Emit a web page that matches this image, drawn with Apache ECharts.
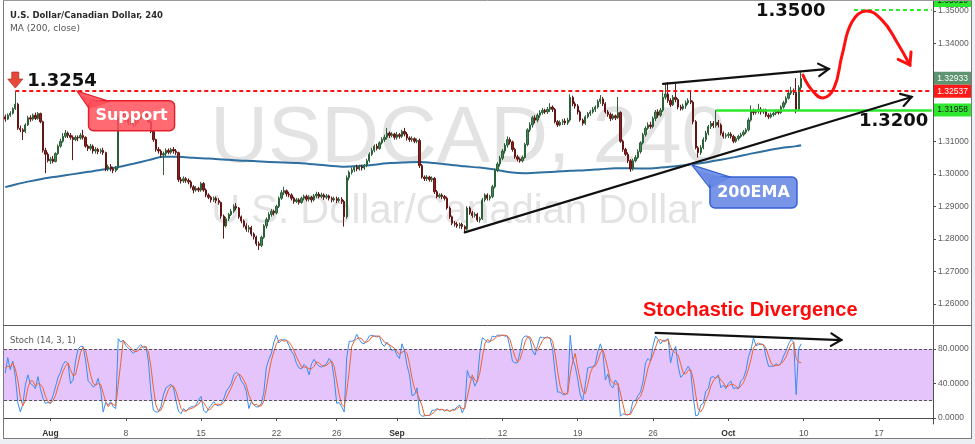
<!DOCTYPE html>
<html><head><meta charset="utf-8">
<script src="https://cdn.jsdelivr.net/npm/echarts@6.0.0/dist/echarts.min.js"></script>
<style>html,body{margin:0;padding:0;background:#fff}#c{width:975px;height:444px}</style>
</head><body><div id="c"></div>
<script>
// ---------- categories (4h bars, 6 per trading day) ----------
const tradingDays = [
'07-27','07-28','07-29',
'08-01','08-02','08-03','08-04','08-05',
'08-08','08-09','08-10','08-11','08-12',
'08-15','08-16','08-17','08-18','08-19',
'08-22','08-23','08-24','08-25','08-26',
'08-29','08-30','08-31','09-01','09-02',
'09-05','09-06','09-07','09-08','09-09',
'09-12','09-13','09-14','09-15','09-16',
'09-19','09-20','09-21','09-22','09-23',
'09-26','09-27','09-28','09-29','09-30',
'10-03','10-04','10-05','10-06','10-07',
'10-10','10-11','10-12','10-13','10-14',
'10-17','10-18','10-19','10-20','10-21'];
const barsPerDay = 6;
const visibleBars = 370;
const tickLabels = {'08-01':'Aug','08-08':'8','08-15':'15','08-22':'22','08-26':'26','09-01':'Sep',
  '09-12':'12','09-19':'19','09-26':'26','10-03':'Oct','10-10':'10','10-17':'17'};
const monthTicks = ['08-01','09-01','10-03'];

// ---------- candles [open, close, low, high] in pips above 1.0000 ----------
const c_Jul27 = [
[3175,3168,3160,3182],[3168,3180,3165,3185],[3180,3186,3175,3192],[3186,3200,3182,3204],[3200,3214,3196,3254],[3214,3140,3135,3218],
[3140,3135,3128,3148],[3135,3130,3104,3140],[3130,3150,3125,3155],[3150,3172,3147,3178],[3172,3168,3160,3180],[3168,3180,3163,3185],
[3180,3170,3165,3188],[3170,3185,3166,3190],[3185,3160,3155,3188],[3160,3072,3065,3163],[3072,3060,3002,3080],[3060,3040,3035,3066]];
const c_Aug01 = [
[3040,3045,3030,3052],[3045,3038,3032,3055],[3038,3062,3035,3066],[3062,3085,3058,3090],[3085,3100,3080,3108],[3100,3115,3095,3125],
[3115,3125,3110,3135],[3125,3118,3110,3130],[3118,3112,3105,3125],[3112,3105,3042,3118],[3105,3112,3100,3118],[3112,3110,3100,3118],
[3110,3118,3105,3125],[3118,3112,3105,3135],[3112,3085,3080,3115],[3085,3078,3070,3090],[3078,3085,3072,3092],[3085,3070,3062,3090],
[3070,3075,3062,3082],[3075,3068,3060,3080],[3068,3072,3062,3078],[3072,3065,3058,3080],[3065,3015,3008,3068],[3015,3022,3008,3028],
[3022,3015,3008,3030],[3015,3010,3002,3022],[3010,3018,3005,3024],[3018,3170,3012,3178],[3170,3182,3165,3190],[3182,3175,3168,3196]];
const c_Aug08 = [
[3175,3168,3160,3185],[3168,3158,3150,3175],[3158,3165,3150,3172],[3165,3152,3145,3170],[3152,3160,3145,3168],[3160,3170,3155,3178],
[3170,3180,3165,3188],[3180,3176,3168,3192],[3176,3186,3170,3190],[3186,3160,3155,3190],[3160,3130,3125,3163],[3130,3105,3098,3135],
[3105,3075,3068,3108],[3075,3070,3062,3082],[3070,3058,3050,3075],[3058,3062,2996,3068],[3062,3072,3055,3078],[3072,3066,3060,3078],
[3066,3075,3060,3080],[3075,3070,3062,3082],[3070,3065,3058,3076],[3065,2982,2975,3068],[2982,2978,2970,2990],[2978,2985,2972,2992],
[2985,2980,2972,2990],[2980,2975,2968,2986],[2975,2960,2955,2980],[2960,2950,2940,2965],[2950,2955,2945,2962],[2955,2950,2944,2960]];
const c_Aug15 = [
[2950,2970,2945,2975],[2970,2950,2945,2975],[2950,2935,2928,2955],[2935,2928,2922,2940],[2928,2920,2912,2932],[2920,2925,2914,2930],
[2925,2918,2910,2930],[2918,2912,2905,2925],[2912,2870,2862,2915],[2870,2840,2801,2875],[2840,2862,2835,2868],[2862,2875,2855,2880],
[2875,2885,2870,2892],[2885,2900,2880,2906],[2900,2895,2888,2910],[2895,2868,2862,2898],[2868,2855,2848,2872],[2855,2840,2835,2860],
[2840,2830,2822,2848],[2830,2835,2820,2842],[2835,2815,2808,2840],[2815,2806,2798,2820],[2806,2785,2778,2810],[2785,2780,2766,2792],
[2780,2805,2775,2810],[2805,2840,2800,2845],[2840,2860,2832,2866],[2860,2875,2852,2882],[2875,2885,2868,2892],[2885,2880,2872,2890]];
const c_Aug22 = [
[2880,2900,2875,2905],[2900,2925,2895,2930],[2925,2942,2920,2950],[2942,2948,2935,2960],[2948,2938,2930,2952],[2938,2935,2928,2945],
[2935,2925,2918,2940],[2925,2915,2908,2930],[2915,2920,2910,2926],[2920,2912,2905,2925],[2912,2925,2908,2930],[2925,2930,2918,2936],
[2930,2922,2915,2936],[2922,2928,2915,2934],[2928,2920,2912,2932],[2920,2932,2915,2938],[2932,2938,2925,2945],[2938,2930,2924,2944],
[2930,2935,2925,2942],[2935,2928,2920,2940],[2928,2932,2922,2938],[2932,2925,2918,2936],[2925,2920,2912,2930],[2920,2924,2914,2930],
[2924,2918,2910,2930],[2918,2922,2912,2928],[2922,2915,2908,2928],[2915,2868,2838,2920],[2868,2988,2862,2995],[2988,3005,2980,3010]];
const c_Aug29 = [
[3005,3012,2998,3020],[3012,3020,3005,3025],[3020,3015,3008,3028],[3015,3022,3010,3028],[3022,3018,3010,3028],[3018,3025,3012,3030],
[3025,3040,3020,3046],[3040,3060,3035,3066],[3060,3072,3055,3080],[3072,3085,3066,3090],[3085,3078,3072,3092],[3078,3095,3074,3100],
[3095,3105,3090,3112],[3105,3112,3098,3120],[3112,3125,3105,3141],[3125,3118,3110,3130],[3118,3122,3112,3128],[3122,3112,3105,3126],
[3112,3120,3105,3128],[3120,3115,3108,3125],[3115,3130,3110,3135],[3130,3122,3115,3141],[3122,3110,3102,3128],[3110,3105,3098,3115],
[3105,3108,3098,3115],[3108,3100,3094,3112],[3100,3102,3094,3108],[3102,3025,3018,3108],[3025,2990,2985,3030],[2990,2985,2978,2995]];
const c_Sep05 = [
[2985,2990,2978,2996],[2990,2982,2976,2994],[2982,2986,2975,2992],[2986,2945,2938,2990],[2945,2930,2925,2950],[2930,2935,2925,2940],
[2935,2930,2922,2940],[2930,2925,2918,2935],[2925,2895,2890,2930],[2895,2868,2862,2900],[2868,2848,2842,2872],[2848,2845,2838,2855],
[2845,2840,2834,2852],[2840,2845,2832,2850],[2845,2838,2830,2850],[2838,2830,2821,2842],[2830,2895,2826,2900],[2895,2880,2874,2900],
[2880,2872,2865,2886],[2872,2876,2866,2882],[2876,2858,2852,2880],[2858,2862,2850,2868],[2862,2920,2858,2926],[2920,2935,2914,2940],
[2935,2925,2918,2940],[2925,2930,2918,2936],[2930,2960,2925,2966],[2960,3010,2955,3016],[3010,3030,3005,3036],[3030,3048,3022,3055]];
const c_Sep12 = [
[3048,3070,3042,3076],[3070,3088,3062,3094],[3088,3105,3080,3115],[3105,3098,3090,3112],[3098,3075,3068,3102],[3075,3052,3046,3080],
[3052,3045,3038,3058],[3045,3040,3034,3050],[3040,3050,3035,3056],[3050,3090,3046,3095],[3090,3135,3085,3140],[3135,3150,3128,3158],
[3150,3172,3142,3178],[3172,3165,3155,3180],[3165,3180,3158,3186],[3180,3188,3172,3195],[3188,3195,3182,3202],[3195,3190,3184,3200],
[3190,3198,3184,3205],[3198,3205,3190,3217],[3205,3198,3190,3210],[3198,3160,3155,3202],[3160,3150,3144,3165],[3150,3158,3146,3164],
[3158,3162,3150,3168],[3162,3156,3150,3170],[3156,3165,3150,3172],[3165,3235,3160,3244],[3235,3215,3208,3240],[3215,3208,3200,3222]];
const c_Sep19 = [
[3208,3190,3182,3214],[3190,3165,3160,3195],[3165,3155,3148,3170],[3155,3175,3150,3180],[3175,3185,3170,3190],[3185,3190,3178,3196],
[3190,3198,3185,3205],[3198,3205,3190,3210],[3205,3222,3200,3228],[3222,3230,3215,3242],[3230,3215,3208,3236],[3215,3190,3185,3220],
[3190,3182,3175,3196],[3182,3170,3162,3188],[3170,3178,3165,3185],[3178,3172,3165,3182],[3172,3188,3168,3236],[3188,3100,3095,3192],
[3100,3075,3068,3105],[3075,3060,3055,3080],[3060,3040,3033,3066],[3040,3015,3006,3045],[3015,3040,3010,3046],[3040,3050,3035,3058],
[3050,3068,3045,3075],[3068,3095,3062,3100],[3095,3120,3090,3126],[3120,3140,3114,3146],[3140,3150,3135,3158],[3150,3145,3138,3160]];
const c_Sep26 = [
[3145,3170,3140,3176],[3170,3190,3162,3196],[3190,3180,3172,3198],[3180,3195,3175,3202],[3195,3235,3190,3250],[3235,3245,3228,3279],
[3245,3225,3218,3282],[3225,3212,3205,3232],[3212,3235,3208,3242],[3235,3228,3220,3276],[3228,3205,3198,3232],[3205,3200,3194,3212],
[3200,3208,3195,3215],[3208,3218,3200,3225],[3218,3225,3212,3232],[3225,3220,3214,3257],[3220,3160,3152,3225],[3160,3080,3075,3165],
[3080,3065,3050,3085],[3065,3080,3058,3088],[3080,3105,3075,3112],[3105,3125,3098,3132],[3125,3145,3118,3150],[3145,3155,3138,3162],
[3155,3148,3140,3162],[3148,3158,3142,3196],[3158,3150,3142,3165],[3150,3125,3118,3155],[3125,3115,3108,3130],[3115,3118,3108,3125]];
const c_Oct03 = [
[3118,3122,3110,3128],[3122,3115,3108,3128],[3115,3100,3094,3120],[3100,3108,3095,3114],[3108,3115,3102,3120],[3115,3120,3110,3126],
[3120,3128,3115,3134],[3128,3135,3122,3140],[3135,3165,3130,3172],[3165,3195,3160,3210],[3195,3188,3180,3200],[3188,3192,3182,3198],
[3192,3198,3185,3215],[3198,3190,3182,3205],[3190,3195,3184,3200],[3195,3180,3174,3200],[3180,3175,3168,3186],[3175,3182,3170,3188],
[3182,3186,3176,3192],[3186,3192,3180,3198],[3192,3188,3182,3198],[3188,3205,3184,3210],[3205,3218,3200,3224],[3218,3232,3212,3238],
[3232,3248,3228,3258],[3248,3255,3242,3267],[3255,3250,3242,3262],[3250,3198,3186,3294],[3198,3265,3195,3272],[3265,3293,3258,3312]];

// ---------- MA(200, close), one reading per trading day (pips) ----------
const maFirst = 2959;
const maDaily = [2965,2976,2985,2992,2999,3006,3013,3021,3031,3042,3052,3052,3049,3047,3044,3041,3039,3036,3035,3033,
  3029,3025,3022,3024,3028,3033,3035,3036,3033,3028,3023,3019,3013,3005,3002,3004,3006,3009,3011,3014,
  3017,3017,3016,3019,3023,3029,3035,3043,3052,3062,3071,3079,3085];
const maLast = 3088;

// ---------- Stochastic %K / %D ----------
const k_Jul27 = [52,70,56,66,48,18, 7,16,38,50,40,38, 34,48,34,23,17,18];
const k_Aug01 = [17,26,36,47,53,62, 66,63,40,44,66,80, 83,83,67,43,40,36, 38,46,33,7,18,15, 19,13,11,92,88,90];
const k_Aug08 = [84,81,78,75,78,82, 85,81,83,66,30,9, 7,7,13,27,35,37, 39,35,20,8,5,11, 8,11,13,13,15,21];
const k_Aug15 = [25,9,6,11,15,19, 15,14,17,22,31,35, 40,50,53,51,43,39, 31,11,19,15,13,13, 17,30,59,68,75,88];
const k_Aug22 = [96,87,90,91,90,84, 77,73,63,58,57,62, 59,50,63,68,63,60, 59,61,63,69,65,46, 17,18,13,7,70,89];
const k_Aug29 = [89,90,97,91,87,86, 90,95,96,95,94,95, 86,83,88,84,78,80, 73,69,86,78,61,50, 26,27,35,5,2,2.5];
const k_Sep05 = [3,3,9,9,11,9, 10,8,10,7,10,10, 13,15,6,12,55,47, 47,37,43,75,93,91, 88,88,95,94,96,96];
const k_Sep12 = [96,95,95,82,66,64, 64,76,92,95,95,91, 78,73,84,94,93,93, 94,92,80,52,30,30, 27,27,30,96,68,60];
const k_Sep19 = [45,27,20,38,58,59, 59,63,77,86,77,44, 51,38,35,44,40,2, 5,4,3.4,6,20,20, 26,30,42,64,69,66];
const k_Sep26 = [84,95,91,86,90,90, 92,64,77,83,60,47, 50,55,60,54,25,2.5, 3.5,15,17,31,34,47, 48,46,50,35,38,34];
const k_Oct03 = [40,43,34,35,34,43, 46,55,71,79,93,84, 85,86,85,71,60,60, 60,63,61,64,72,78, 86,91,88,27,80,86];

const d_Jul27 = [58,60,59,64,57,44, 24,14,20,35,43,43, 37,40,39,35,25,19];
const d_Aug01 = [17,20,26,36,45,54, 60,64,56,49,50,63, 76,82,78,64,50,40, 38,40,39,29,19,13, 17,16,14,39,64,90];
const d_Aug08 = [87,84,81,78,77,78, 82,83,83,77,60,35, 15,8,9,16,25,33, 37,37,31,21,11,8, 8,10,11,12,14,16];
const d_Aug15 = [20,18,13,9,11,15, 16,16,15,18,23,29, 35,42,48,51,49,44, 38,27,20,15,16,14, 14,20,35,52,67,77];
const d_Aug22 = [86,90,91,89,90,88, 84,78,71,65,59,59, 59,57,57,60,65,64, 61,60,61,64,66,60, 43,27,16,13,30,55];
const d_Aug29 = [83,89,92,93,92,88, 88,90,94,95,95,95, 92,88,86,85,83,81, 77,74,76,78,75,63, 46,34,29,22,14,3];
const d_Sep05 = [3,3,5,7,10,10, 10,9,9,8,9,9, 11,13,11,11,24,38, 50,44,42,52,70,86, 91,89,90,92,95,95];
const d_Sep12 = [96,96,95,91,81,71, 65,68,77,88,94,94, 88,81,78,84,90,93, 93,93,89,75,54,37, 29,28,28,51,65,75];
const d_Sep19 = [58,44,31,28,39,52, 59,60,66,75,80,69, 57,44,41,39,40,29, 16,4,4,4,10,15, 22,25,33,45,58,66];
const d_Sep26 = [73,82,90,91,89,89, 91,82,78,75,73,63, 52,51,55,56,46,27, 10,7,12,21,27,37, 43,47,48,44,41,36];
const d_Oct03 = [37,39,39,37,34,37, 41,48,57,68,81,85, 87,85,85,81,72,64, 60,61,61,63,66,71, 79,85,88,69,65,64];

// ---------- axis ticks and levels ----------
const priceTicks = [1.26,1.27,1.28,1.29,1.30,1.31,1.32,1.33,1.34,1.35];
const stochTicks = [0,40,80];
const stochBand = [20,80];
const supportLevel = 1.32537, breakLevel = 1.31958, targetLevel = 1.3505, lastClose = 1.32933;

// ---------- build ----------
const allCats = [];
tradingDays.forEach(d => { for (let c = 0; c < barsPerDay; c++) allCats.push(d + ' ' + c); });
const categories = allCats.slice(0, visibleBars);
const toPrice = v => +(1 + v / 10000).toFixed(4);
const candleRows = [].concat(c_Jul27,c_Aug01,c_Aug08,c_Aug15,c_Aug22,c_Aug29,c_Sep05,c_Sep12,c_Sep19,c_Sep26,c_Oct03);
const candles = candleRows.map(r => [toPrice(r[0]), toPrice(r[1]), toPrice(r[2]), toPrice(r[3])]);
const kLine = [].concat(k_Jul27,k_Aug01,k_Aug08,k_Aug15,k_Aug22,k_Aug29,k_Sep05,k_Sep12,k_Sep19,k_Sep26,k_Oct03);
const dLine = [].concat(d_Jul27,d_Aug01,d_Aug08,d_Aug15,d_Aug22,d_Aug29,d_Sep05,d_Sep12,d_Sep19,d_Sep26,d_Oct03);
const maLine = new Array(candles.length).fill(null);
maLine[0] = toPrice(maFirst);
maDaily.forEach((v, d) => { maLine[d * barsPerDay + 3] = toPrice(v); });
maLine[candles.length - 1] = toPrice(maLast);

const isTick = (idx, val) => { const p = String(val).split(' '); return p[1] === '0' && tickLabels[p[0]] !== undefined; };
const FONT = 'Liberation Sans, Arial, sans-serif';

const chart = echarts.init(document.getElementById('c'), null, {renderer: 'canvas'});
const option = {
  animation: false,
  backgroundColor: '#ffffff',
  grid: [
    {left: 4, top: 0, width: 929, height: 324},
    {left: 4, top: 326, width: 929, height: 98}
  ],
  xAxis: [
    {type: 'category', gridIndex: 0, data: categories, boundaryGap: true,
     axisLine: {show: false}, axisTick: {show: false}, axisLabel: {show: false}, splitLine: {show: false}},
    {type: 'category', gridIndex: 1, data: categories, boundaryGap: true,
     axisLine: {show: true, lineStyle: {color: '#4d4d4d', width: 1}},
     axisTick: {show: true, alignWithLabel: true, length: 3, interval: isTick, lineStyle: {color: '#4d4d4d'}},
     axisLabel: {show: true, interval: isTick, margin: 5, color: '#555', fontSize: 8.5, fontFamily: FONT,
       formatter: v => { const d = v.split(' ')[0]; const t = tickLabels[d] || ''; return monthTicks.includes(d) ? '{b|' + t + '}' : t; },
       rich: {b: {fontWeight: 'bold', color: '#333', fontSize: 8.5, fontFamily: FONT}}},
     splitLine: {show: false}}
  ],
  yAxis: [
    {type: 'value', gridIndex: 0, position: 'right', min: 1.25387, max: 1.35338,
     axisLine: {show: true, lineStyle: {color: '#4d4d4d'}},
     axisTick: {show: true, length: 3, customValues: priceTicks, lineStyle: {color: '#4d4d4d'}},
     axisLabel: {show: true, customValues: priceTicks, formatter: v => v.toFixed(5), color: '#5c5c5c', fontSize: 8.5, margin: 5, fontFamily: FONT},
     splitLine: {show: false}},
    {type: 'value', gridIndex: 1, position: 'right', min: -6.96, max: 106.67,
     axisLine: {show: true, lineStyle: {color: '#4d4d4d'}},
     axisTick: {show: true, length: 3, customValues: stochTicks, lineStyle: {color: '#4d4d4d'}},
     axisLabel: {show: true, customValues: stochTicks, formatter: v => v.toFixed(4), color: '#5c5c5c', fontSize: 8.5, margin: 5, fontFamily: FONT},
     splitLine: {show: false}}
  ],
  series: [
    {type: 'candlestick', name: 'USDCAD', xAxisIndex: 0, yAxisIndex: 0, data: candles, barWidth: 1.8, z: 3,
     itemStyle: {color: '#468656', color0: '#8c1f1f', borderColor: '#2c6039', borderColor0: '#641616', borderWidth: 1},
     markLine: {silent: true, symbol: ['none', 'none'], label: {show: false}, animation: false,
       data: [
         [{coord: [categories[4], supportLevel], lineStyle: {color: '#ff1010', width: 2, type: [4, 3]}}, {coord: [categories[visibleBars - 1], supportLevel]}],
         [{coord: [categories[283], breakLevel], lineStyle: {color: '#2de82d', width: 2.5, type: 'solid'}}, {coord: [categories[visibleBars - 1], breakLevel]}],
         [{coord: [categories[338], targetLevel], lineStyle: {color: '#2de82d', width: 2, type: [4, 3]}}, {coord: [categories[visibleBars - 1], targetLevel]}]
       ]}},
    {type: 'line', name: 'MA (200, close)', xAxisIndex: 0, yAxisIndex: 0, data: maLine, connectNulls: true, smooth: 0.3,
     showSymbol: false, z: 2, lineStyle: {color: '#2f6f9f', width: 2}},
    {type: 'line', name: '%K', xAxisIndex: 1, yAxisIndex: 1, data: kLine, showSymbol: false,
     lineStyle: {color: '#3a8df2', width: 1}, z: 3,
     markArea: {silent: true, itemStyle: {color: '#e4c4fb'}, data: [[{yAxis: stochBand[0]}, {yAxis: stochBand[1]}]]},
     markLine: {silent: true, symbol: ['none', 'none'], label: {show: false},
       lineStyle: {color: '#555', width: 1, type: [3, 2]}, data: [{yAxis: stochBand[1]}, {yAxis: stochBand[0]}]}},
    {type: 'line', name: '%D', xAxisIndex: 1, yAxisIndex: 1, data: dLine, showSymbol: false,
     lineStyle: {color: '#f4622a', width: 1}, z: 4}
  ]
};
chart.setOption(option);

// ---------- annotations positioned through the axes ----------
function mainPx(i, v) {
  const a = chart.convertToPixel({xAxisIndex: 0, yAxisIndex: 0}, [categories[0], v]);
  const b = chart.convertToPixel({xAxisIndex: 0, yAxisIndex: 0}, [categories[1], v]);
  return [a[0] + i * (b[0] - a[0]), a[1]];
}
function stochPx(i, v) {
  const a = chart.convertToPixel({xAxisIndex: 1, yAxisIndex: 1}, [categories[0], v]);
  const b = chart.convertToPixel({xAxisIndex: 1, yAxisIndex: 1}, [categories[1], v]);
  return [a[0] + i * (b[0] - a[0]), a[1]];
}
function arrow(p0, p1, color, w, head, spread) {
  const ang = Math.atan2(p1[1] - p0[1], p1[0] - p0[0]);
  const a1 = ang + Math.PI - spread, a2 = ang + Math.PI + spread;
  return [
    {type: 'line', z: 50, shape: {x1: p0[0], y1: p0[1], x2: p1[0], y2: p1[1]}, style: {stroke: color, lineWidth: w, lineCap: 'round'}},
    {type: 'polyline', z: 50, shape: {points: [[p1[0] + head * Math.cos(a1), p1[1] + head * Math.sin(a1)], p1, [p1[0] + head * Math.cos(a2), p1[1] + head * Math.sin(a2)]]},
     style: {stroke: color, lineWidth: w, fill: null, lineCap: 'round', lineJoin: 'miter'}}
  ];
}
const g = [];
// watermark
g.push({type: 'text', z: 1, x: 468, y: 140, style: {text: 'USDCAD, 240', fill: '#e3e3e3', fontSize: 80, fontFamily: FONT, align: 'center', verticalAlign: 'middle'}});
g.push({type: 'text', z: 1, x: 457, y: 212, style: {text: 'U.S. Dollar/Canadian Dollar', fill: '#e3e3e3', fontSize: 40, fontFamily: FONT, align: 'center', verticalAlign: 'middle'}});
// titles
g.push({type: 'text', z: 60, x: 10, y: 16, style: {text: 'U.S. Dollar/Canadian Dollar, 240', fill: '#2a2a2a', fontSize: 8.5, fontWeight: 'bold', fontFamily: 'DejaVu Sans', align: 'left', verticalAlign: 'middle'}});
g.push({type: 'text', z: 60, x: 10, y: 29, style: {text: 'MA (200, close)', fill: '#555', fontSize: 9, fontFamily: 'DejaVu Sans', align: 'left', verticalAlign: 'middle'}});
g.push({type: 'text', z: 60, x: 10, y: 341, style: {text: 'Stoch (14, 3, 1)', fill: '#555', fontSize: 8.5, fontFamily: 'DejaVu Sans', align: 'left', verticalAlign: 'middle'}});

// resistance marker + label
const tip = mainPx(4, 1.3254); tip[1] -= 3;
const tx = tip[0], ty = tip[1];
g.push({type: 'polygon', z: 55, shape: {points: [[tx - 3.5, ty - 16], [tx + 3.5, ty - 16], [tx + 3.5, ty - 9], [tx + 7.5, ty - 9], [tx, ty], [tx - 7.5, ty - 9], [tx - 3.5, ty - 9]]},
  style: {fill: '#e5493a', stroke: '#b83226', lineWidth: 0.8}});
g.push({type: 'text', z: 55, x: tx + 12, y: ty - 7, style: {text: '1.3254', fill: '#111', fontSize: 18, fontWeight: 'bold', fontFamily: 'DejaVu Sans', align: 'left', verticalAlign: 'middle'}});

// Support callout
const sp = mainPx(28.6, supportLevel);
g.push({type: 'polygon', z: 56, shape: {points: [sp, [sp[0] + 12, sp[1] + 17], [sp[0] + 32, sp[1] + 10]]}, style: {fill: 'rgba(255,72,82,0.85)', stroke: '#e5202c', lineWidth: 1.2}});
g.push({type: 'rect', z: 56, shape: {x: sp[0] + 11.5, y: sp[1] + 9.5, width: 86, height: 30, r: 5}, style: {fill: 'rgba(255,80,90,0.85)', stroke: '#e5202c', lineWidth: 1.5}});
g.push({type: 'polygon', z: 57, shape: {points: [[sp[0] + 3, sp[1] + 4], [sp[0] + 13, sp[1] + 16], [sp[0] + 30, sp[1] + 11]]}, style: {fill: 'rgba(255,80,90,0.85)'}});
g.push({type: 'text', z: 58, x: sp[0] + 54.5, y: sp[1] + 24.5, style: {text: 'Support', fill: '#fff', fontSize: 16, fontWeight: 'bold', fontFamily: 'DejaVu Sans', align: 'center', verticalAlign: 'middle'}});

// 200EMA callout
const ep = mainPx(273.5, 1.3027);
g.push({type: 'polygon', z: 56, shape: {points: [ep, [ep[0] + 18, ep[1] + 23], [ep[0] + 38, ep[1] + 12]]}, style: {fill: 'rgba(95,130,225,0.85)', stroke: '#3560d5', lineWidth: 1.2}});
g.push({type: 'rect', z: 56, shape: {x: ep[0] + 18, y: ep[1] + 12, width: 87, height: 31, r: 5}, style: {fill: 'rgba(105,138,228,0.9)', stroke: '#3560d5', lineWidth: 1.5}});
g.push({type: 'polygon', z: 57, shape: {points: [[ep[0] + 6, ep[1] + 6], [ep[0] + 19, ep[1] + 21], [ep[0] + 36, ep[1] + 13]]}, style: {fill: 'rgba(105,138,228,0.9)'}});
g.push({type: 'text', z: 58, x: ep[0] + 61.5, y: ep[1] + 28, style: {text: '200EMA', fill: '#fff', fontSize: 16, fontWeight: 'bold', fontFamily: 'DejaVu Sans', align: 'center', verticalAlign: 'middle'}});

// trend lines
g.push(...arrow(mainPx(183, 1.2820), mainPx(361, 1.3236), '#111', 2.2, 12, 0.55));
g.push(...arrow(mainPx(262, 1.3276), mainPx(328, 1.3322), '#111', 2.2, 12, 0.55));
g.push(...arrow(stochPx(259, 98.6), stochPx(333, 90.4), '#111', 2.2, 12, 0.55));

// projected path
const curve = [[317.7, 1.3303], [321.3, 1.3257], [325.7, 1.3233], [330.1, 1.3264], [333.3, 1.3365], [337.2, 1.3466], [342.8, 1.3500], [349.2, 1.3472], [355.1, 1.3405], [360.3, 1.3334]].map(p => mainPx(p[0], p[1]));
g.push({type: 'polyline', z: 52, shape: {points: curve, smooth: 0.45}, style: {stroke: '#ff1010', lineWidth: 3, fill: null, lineCap: 'round'}});
{
  const p1 = curve[curve.length - 1], p0 = curve[curve.length - 2];
  const ang = Math.atan2(p1[1] - p0[1], p1[0] - p0[0]);
  const h = 13, s = 0.6;
  g.push({type: 'polyline', z: 52, shape: {points: [[p1[0] + h * Math.cos(ang + Math.PI - s), p1[1] + h * Math.sin(ang + Math.PI - s)], p1, [p1[0] + h * Math.cos(ang + Math.PI + s), p1[1] + h * Math.sin(ang + Math.PI + s)]]},
    style: {stroke: '#ff1010', lineWidth: 3, fill: null, lineCap: 'round'}});
}

// level texts
const t1 = mainPx(299, 1.3500);
g.push({type: 'text', z: 55, x: t1[0], y: t1[1], style: {text: '1.3500', fill: '#111', fontSize: 18, fontWeight: 'bold', fontFamily: 'DejaVu Sans', align: 'left', verticalAlign: 'middle'}});
const t2 = mainPx(340, 1.3160);
g.push({type: 'text', z: 55, x: t2[0], y: t2[1], style: {text: '1.3200', fill: '#111', fontSize: 18, fontWeight: 'bold', fontFamily: 'DejaVu Sans', align: 'left', verticalAlign: 'middle'}});
const t3 = stochPx(254, 106);
g.push({type: 'text', z: 55, x: t3[0], y: 310, style: {text: 'Stochastic Divergence', fill: '#ff0a0a', fontSize: 20, fontWeight: 'bold', fontFamily: FONT, align: 'left', verticalAlign: 'middle', stroke: '#fff', lineWidth: 3}});

// price labels on the axis
function priceTag(v, text, bg, fg, dy) {
  const p = chart.convertToPixel({yAxisIndex: 0}, v) + (dy || 0);
  g.push({type: 'rect', z: 70, shape: {x: 934, y: p - 6.5, width: 37, height: 13}, style: {fill: bg}});
  g.push({type: 'text', z: 71, x: 952.5, y: p, style: {text: text, fill: fg, fontSize: 8.5, fontFamily: FONT, align: 'center', verticalAlign: 'middle'}});
}
priceTag(targetLevel, '1.35010', '#2de82d', '#222', -9);
priceTag(lastClose, lastClose.toFixed(5), '#5f9470', '#fff');
priceTag(supportLevel, supportLevel.toFixed(5), '#ff1a1a', '#fff');
priceTag(breakLevel, breakLevel.toFixed(5), '#2de82d', '#222');

// frame
const frame = '#7a7a7a';
g.push({type: 'rect', z: 80, shape: {x: 972, y: 0, width: 3, height: 444}, style: {fill: '#eceff3'}});
g.push({type: 'rect', z: 80, shape: {x: 0, y: 439, width: 975, height: 5}, style: {fill: '#eceff3'}});
g.push({type: 'line', z: 81, shape: {x1: 3.5, y1: 0, x2: 3.5, y2: 439}, style: {stroke: frame, lineWidth: 1}});
g.push({type: 'line', z: 81, shape: {x1: 971.5, y1: 0, x2: 971.5, y2: 439}, style: {stroke: frame, lineWidth: 1}});
g.push({type: 'line', z: 81, shape: {x1: 3, y1: 438.5, x2: 972, y2: 438.5}, style: {stroke: frame, lineWidth: 1}});
g.push({type: 'line', z: 81, shape: {x1: 3, y1: 0.5, x2: 972, y2: 0.5}, style: {stroke: '#9a9a9a', lineWidth: 1}});
g.push({type: 'line', z: 81, shape: {x1: 3, y1: 325.5, x2: 972, y2: 325.5}, style: {stroke: '#5a5a5a', lineWidth: 1}});

chart.setOption({graphic: g});
</script></body></html>
